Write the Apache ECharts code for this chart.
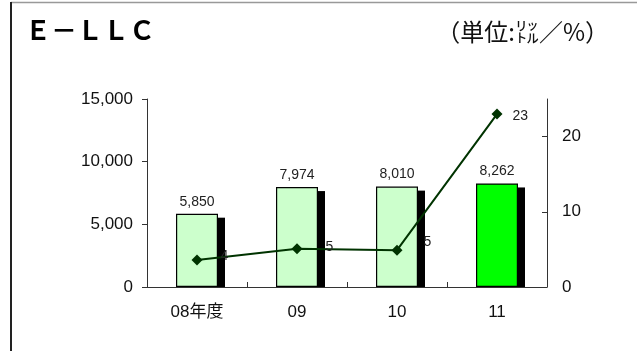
<!DOCTYPE html>
<html>
<head>
<meta charset="utf-8">
<script src="https://cdn.jsdelivr.net/npm/echarts@6/dist/echarts.min.js"></script>
<style>
html,body{margin:0;padding:0;background:#fff;}
#c{width:637px;height:351px;}
</style>
</head>
<body>
<div id="c"></div>
<script>
const categories = ['08年度', '09', '10', '11'];
const volume = [5850, 7974, 8010, 8262];
const ratio = [3.6, 5.1, 4.9, 23];
const leftTicks = [0, 5000, 10000, 15000];
const rightTicks = [0, 10, 20];
const titleText = 'Ｅ－ＬＬＣ';
const unitText = '（単位:㍑／%）';

const barFill = ['#CCFFCC', '#CCFFCC', '#CCFFCC', '#00FF00'];
const ratioLabelOffset = [[18, -4], [23, -2], [21, -8], [10, 2]];

const FONT = '"Liberation Sans", Arial, "Noto Sans CJK JP", sans-serif';
const fmt = v => Number(v).toLocaleString('en-US');

const chart = echarts.init(document.getElementById('c'), null, {renderer: 'canvas'});
chart.setOption({
  animation: false,
  backgroundColor: '#fff',
  textStyle: {fontFamily: FONT},
  grid: {left: 147, right: 90, top: 99, bottom: 64, containLabel: false},
  graphic: [
    {type: 'line', shape: {x1: 11, y1: 2.5, x2: 637, y2: 2.5}, style: {stroke: '#999', lineWidth: 1.5}},
    {type: 'line', shape: {x1: 11, y1: 2, x2: 11, y2: 351}, style: {stroke: '#222', lineWidth: 2}},
    {type: 'text', left: 25, top: 17, style: {text: titleText, fontSize: 26, fontWeight: 'bold', fill: '#000', fontFamily: '"Noto Sans CJK JP", sans-serif'}},
    {type: 'text', right: 28, top: 20, style: {text: unitText, fontSize: 24, fill: '#111', fontFamily: '"Noto Sans CJK JP", sans-serif'}}
  ],
  xAxis: {
    type: 'category',
    data: categories,
    axisLine: {lineStyle: {color: '#333', width: 1}},
    axisTick: {show: true, inside: true, length: 5, lineStyle: {color: '#333'}},
    axisLabel: {fontSize: 17, color: '#111', margin: 17, fontFamily: FONT},
    splitLine: {show: false}
  },
  yAxis: [
    {
      type: 'value', min: leftTicks[0], max: leftTicks[leftTicks.length - 1], interval: leftTicks[1] - leftTicks[0],
      axisLine: {show: true, lineStyle: {color: '#333'}},
      axisTick: {show: true, inside: false, length: 5, lineStyle: {color: '#333'}},
      axisLabel: {fontSize: 17, color: '#111', margin: 14, formatter: fmt, fontFamily: FONT},
      splitLine: {show: false}
    },
    {
      type: 'value', position: 'right', min: 0, max: 25,
      axisLine: {show: true, lineStyle: {color: '#333'}},
      axisTick: {show: true, inside: true, length: 5, customValues: rightTicks, lineStyle: {color: '#333'}},
      axisLabel: {fontSize: 17, color: '#111', margin: 15, customValues: rightTicks, fontFamily: FONT},
      splitLine: {show: false}
    }
  ],
  series: [
    {
      type: 'custom',
      z: 1,
      data: volume.map((v, i) => [i, v]),
      encode: {x: 0, y: 1},
      renderItem: function (params, api) {
        const p = api.coord([api.value(0), api.value(1)]);
        const b = api.coord([api.value(0), 0]);
        return {
          type: 'rect',
          shape: {x: p[0] + 21, y: p[1] + 4, width: 7, height: b[1] - p[1] - 4},
          style: {fill: '#000'}
        };
      }
    },
    {
      type: 'bar',
      z: 2,
      barWidth: 42,
      data: volume.map((v, i) => ({value: v, itemStyle: {color: barFill[i]}})),
      itemStyle: {borderColor: '#000', borderWidth: 1.2},
      label: {show: true, position: 'top', distance: 5, fontSize: 14, color: '#222', formatter: p => fmt(p.value), fontFamily: FONT}
    },
    {
      type: 'line',
      z: 3,
      yAxisIndex: 1,
      data: ratio.map((v, i) => ({value: v, label: {offset: ratioLabelOffset[i]}})),
      symbol: 'diamond',
      symbolSize: 11,
      lineStyle: {color: '#003300', width: 2},
      itemStyle: {color: '#003300'},
      label: {show: true, position: 'right', distance: 0, fontSize: 14, color: '#222', formatter: p => Math.round(p.value), fontFamily: FONT}
    }
  ]
});
</script>
</body>
</html>
